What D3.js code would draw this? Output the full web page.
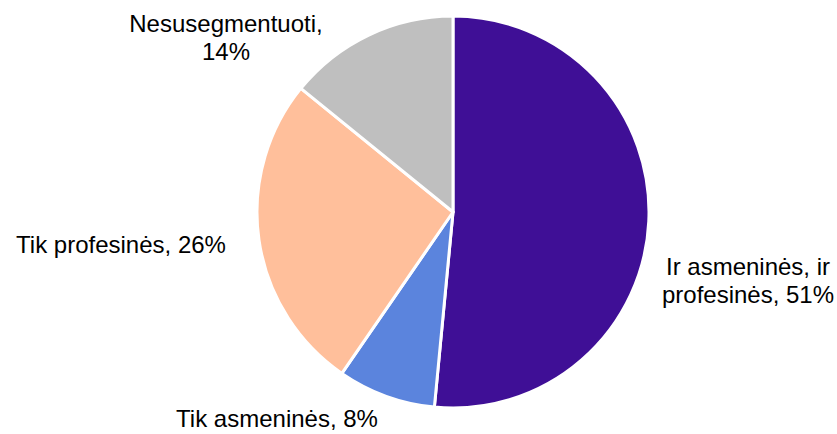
<!DOCTYPE html>
<html>
<head>
<meta charset="utf-8">
<script src="https://cdn.jsdelivr.net/npm/d3@7"></script>
<style>
  body { margin: 0; background: #fff; }
  text { font-family: "Liberation Sans", Arial, sans-serif; fill: #000; }
</style>
</head>
<body>
<div id="chart"></div>
<script>
// data
var categories = ["Ir asmeninės, ir profesinės", "Tik asmeninės", "Tik profesinės", "Nesusegmentuoti"];
var values = [51, 8, 26, 14];
var colors = ["#3f0f96", "#5b84dd", "#ffbf9b", "#bfbfbf"];
// label lines as they wrap in the picture
var labelLines = [
  ["Ir asmeninės, ir", "profesinės, 51%"],
  ["Tik asmeninės, 8%"],
  ["Tik profesinės, 26%"],
  ["Nesusegmentuoti,", "14%"]
];

// set the dimensions
var width = 837, height = 434,
    cx = 453, cy = 212, radius = 196;

// label anchors relative to the pie centre (text-anchor middle, first baseline)
var labelOffset = [[295, 63], [-176, 215], [-332, 41], [-227, -180]];

var svg = d3.select("#chart").append("svg")
    .attr("width", width)
    .attr("height", height);

var g = svg.append("g")
    .attr("transform", "translate(" + cx + "," + cy + ")");

var pie = d3.pie().sort(null).value(function(d) { return d; });
var arc = d3.arc().innerRadius(0).outerRadius(radius);

var data = pie(values);

// slices
g.selectAll("path.slice")
    .data(data)
  .enter().append("path")
    .attr("class", "slice")
    .attr("d", arc)
    .attr("fill", function(d, i) { return colors[i]; })
    .attr("stroke", "#fff")
    .attr("stroke-width", 3)
    .attr("stroke-linejoin", "round");

// labels
var labels = g.selectAll("text.label")
    .data(data)
  .enter().append("text")
    .attr("class", "label")
    .attr("text-anchor", "middle")
    .style("font-size", "24px")
    .attr("transform", function(d, i) {
      return "translate(" + labelOffset[i][0] + "," + labelOffset[i][1] + ")";
    });

labels.each(function(d, i) {
  var t = d3.select(this);
  labelLines[i].forEach(function(line, j) {
    t.append("tspan")
        .attr("x", 0)
        .attr("y", j * 27.5)
        .text(line);
  });
});
</script>
</body>
</html>
